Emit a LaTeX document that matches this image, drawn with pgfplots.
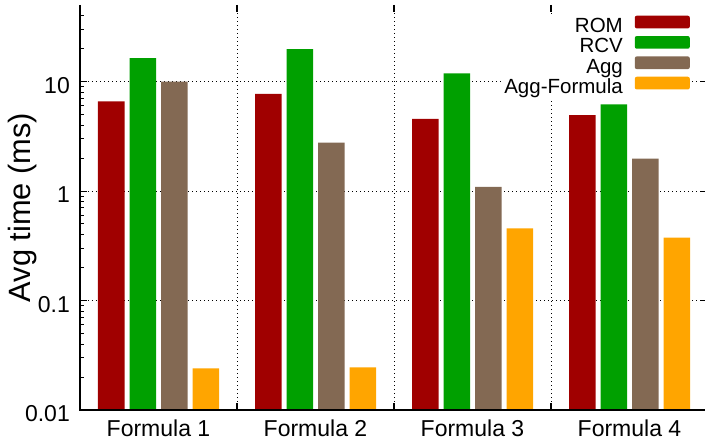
\documentclass[border=0pt]{standalone}
\usepackage{fontspec}
\setmainfont{Liberation Sans}
\usepackage{pgfplots}
\pgfplotsset{compat=1.18}

\definecolor{romred}{HTML}{A00000}
\definecolor{rcvgreen}{HTML}{00A000}
\definecolor{aggbrown}{HTML}{836953}
\definecolor{aggorange}{HTML}{FFA500}

\begin{document}
\begin{tikzpicture}
\begin{axis}[
  name=ax,
  scale only axis, width=628pt, height=405pt,
  ymode=log, ymin=0.01, ymax=50, log origin=infty,
  xmin=-0.5, xmax=3.5,
  ybar=5pt, bar width=26.5pt,
  clip=false,
  axis line style={draw=none},
  tick align=inside,
  major tick length=7pt, minor tick length=3.5pt,
  xtick={0,1,2,3},
  xticklabels={Formula 1,Formula 2,Formula 3,Formula 4},
  xtick style={draw=none},
  extra x ticks={0.5,1.5,2.5},
  extra x tick labels={},
  extra x tick style={xmajorgrids=true, xtick style={draw=black, line width=1.5pt}},
  ytick={0.01,0.1,1,10},
  yticklabels={\mbox{0.01},\mbox{0.1},\mbox{1},\mbox{10}},
  minor ytick={0.02,0.03,0.04,0.05,0.06,0.07,0.08,0.09,
               0.2,0.3,0.4,0.5,0.6,0.7,0.8,0.9,
               2,3,4,5,6,7,8,9,20,30,40},
  ytick style={black, line width=1pt},
  ymajorgrids=true,
  grid style={black, line width=1pt, dash pattern=on 1pt off 3pt},
  ticklabel style={font=\fontsize{23}{26}\selectfont},
  yticklabel style={inner sep=0pt, anchor=east, xshift=-10pt, yshift=-4pt},
  xticklabel style={inner sep=0pt, anchor=base, yshift=-26pt},
  ylabel={Avg time (ms)},
  ylabel style={at={(axis description cs:-0.0908,0.5)}, anchor=center,
                font=\fontsize{30.8}{34}\selectfont},
  legend style={at={(rel axis cs:1,1)}, anchor=north east, xshift=-16pt, yshift=-8.5pt,
                draw=none, fill=white, inner sep=2pt, row sep=-1.1pt, column sep=12pt,
                font=\fontsize{20.5}{22}\selectfont,
                nodes={inner sep=0pt, text height=15pt, text depth=4.5pt}},
  legend cell align=right,
  legend plot pos=right,
  every axis plot post/.append style={
    legend image code/.code={\fill[rounded corners=2pt] (0pt,-1pt) rectangle (55pt,11.7pt);}},
]
% average run time per formula, one series per method
\addplot[fill=romred, draw=none] coordinates {(0,6.6) (1,7.7) (2,4.56) (3,4.93)};
\addplot[fill=rcvgreen, draw=none] coordinates {(0,16.4) (1,19.8) (2,11.9) (3,6.17)};
\addplot[fill=aggbrown, draw=none] coordinates {(0,10.0) (1,2.77) (2,1.09) (3,1.98)};
\addplot[fill=aggorange, draw=none] coordinates {(0,0.024) (1,0.0245) (2,0.456) (3,0.375)};
\legend{ROM,RCV,Agg,Agg-Formula}
% left and bottom frame lines
\draw[line width=2pt] (rel axis cs:0,1) -- (rel axis cs:0,0) -- (rel axis cs:1,0);
\end{axis}
\pgfresetboundingbox
\path[use as bounding box] ([xshift=-80pt,yshift=-34pt]ax.south west)
  rectangle ([xshift=-3pt,yshift=5pt]ax.north east);
\end{tikzpicture}
\end{document}
